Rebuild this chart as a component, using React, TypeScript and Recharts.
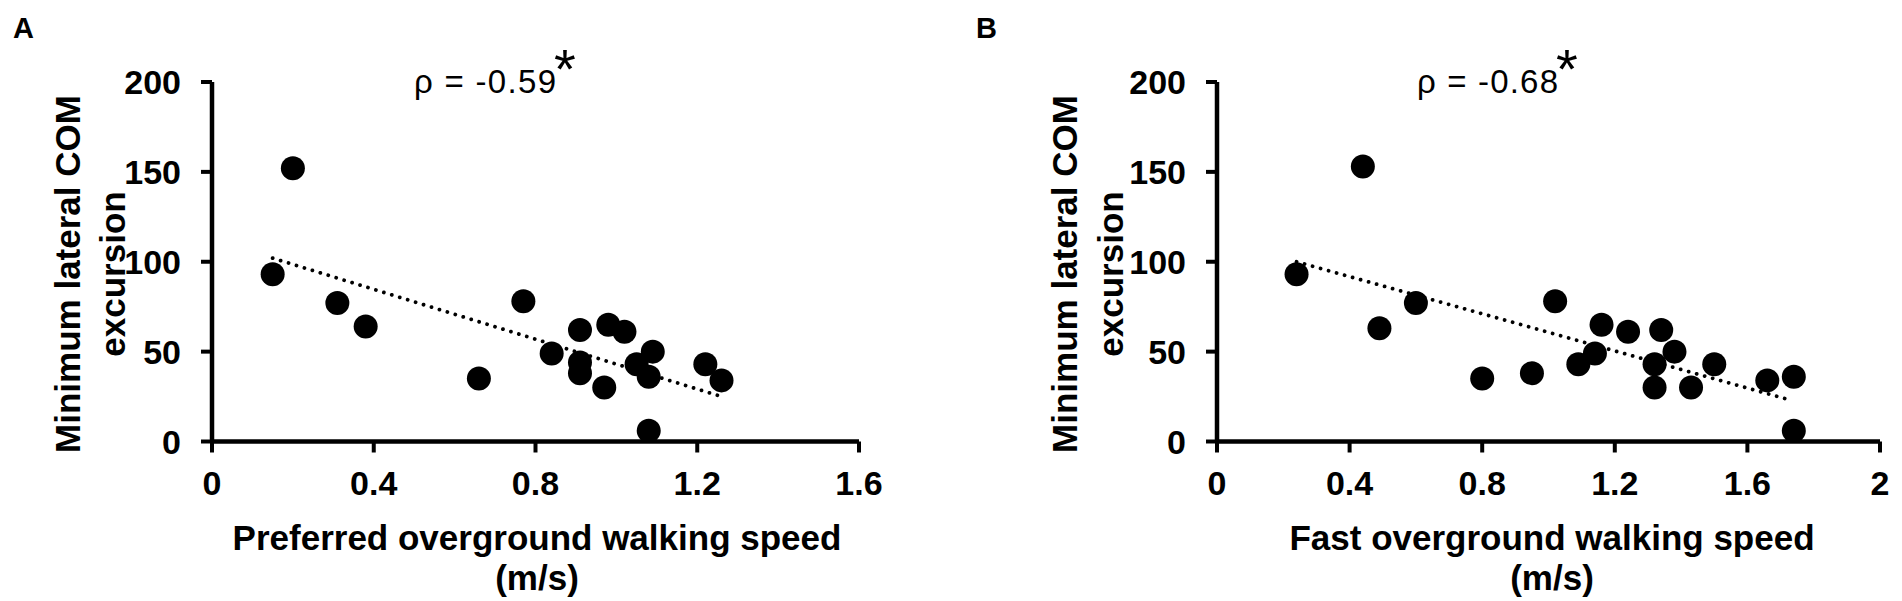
import { ScatterChart, Scatter, XAxis, YAxis, ReferenceLine } from "recharts";

// panel A: preferred speed
const preferredSpeed = [0.15, 0.2, 0.31, 0.38, 0.66, 0.77, 0.84, 0.91, 0.91, 0.91, 0.97, 0.98, 1.02, 1.05, 1.08, 1.09, 1.08, 1.22, 1.26];
const excursionA = [93, 152, 77, 64, 35, 78, 49, 62, 44, 38, 30, 65, 61, 43, 36, 50, 6, 43, 34];
const trendA = [
  { x: 0.15, y: 102 },
  { x: 1.26, y: 25 },
];

// panel B: fast speed
const fastSpeed = [0.24, 0.44, 0.49, 0.6, 0.8, 0.95, 1.02, 1.09, 1.14, 1.16, 1.24, 1.32, 1.32, 1.34, 1.38, 1.43, 1.5, 1.66, 1.74, 1.74];
const excursionB = [93, 153, 63, 77, 35, 38, 78, 43, 49, 65, 61, 43, 30, 62, 50, 30, 43, 34, 36, 6];
const trendB = [
  { x: 0.24, y: 100 },
  { x: 1.73, y: 23 },
];

const yTicks = [0, 50, 100, 150, 200];
const xTicksA = [0, 0.4, 0.8, 1.2, 1.6];
const xTicksB = [0, 0.4, 0.8, 1.2, 1.6, 2];

const pointsA = preferredSpeed.map((x, i) => ({ x, y: excursionA[i] }));
const pointsB = fastSpeed.map((x, i) => ({ x, y: excursionB[i] }));

const tickStyle = { fill: "#000", fontSize: 34, fontWeight: "bold" };
const axisLine = { stroke: "#000", strokeWidth: 4.5 };
const tickLine = { stroke: "#000", strokeWidth: 4 };

function Panel({ width, margin, points, trend, xTicks, xMax }) {
  return (
    <ScatterChart width={width} height={601} margin={margin}>
      <XAxis
        type="number"
        dataKey="x"
        domain={[0, xMax]}
        ticks={xTicks}
        interval={0}
        height={60}
        tick={tickStyle}
        axisLine={axisLine}
        tickLine={tickLine}
        tickSize={11}
        tickMargin={18}
      />
      <YAxis
        type="number"
        dataKey="y"
        domain={[0, 200]}
        ticks={yTicks}
        interval={0}
        width={100}
        tick={tickStyle}
        axisLine={axisLine}
        tickLine={tickLine}
        tickSize={11}
        tickMargin={20}
      />
      <ReferenceLine
        segment={trend}
        stroke="#000"
        strokeWidth={3.8}
        strokeDasharray="0.01 8.3"
        strokeLinecap="round"
        ifOverflow="visible"
      />
      <Scatter
        data={points}
        fill="#000"
        isAnimationActive={false}
        shape={(p) => <circle cx={p.cx} cy={p.cy} r={12} fill="#000" />}
      />
    </ScatterChart>
  );
}

export default function App() {
  const bold = { fontWeight: "bold", fontSize: 35, fill: "#000" };
  return (
    <div
      style={{
        position: "absolute",
        left: 0,
        top: 0,
        width: 1902,
        height: 601,
        background: "#fff",
        fontFamily: '"Liberation Sans", Arial, sans-serif',
      }}
    >
      <div style={{ position: "absolute", left: 0, top: 0 }}>
        <Panel
          width={900}
          margin={{ top: 82, right: 41, left: 112, bottom: 99.5 }}
          points={pointsA}
          trend={trendA}
          xTicks={xTicksA}
          xMax={1.6}
        />
      </div>
      <div style={{ position: "absolute", left: 950, top: 0 }}>
        <Panel
          width={952}
          margin={{ top: 82, right: 22, left: 167, bottom: 99.5 }}
          points={pointsB}
          trend={trendB}
          xTicks={xTicksB}
          xMax={2}
        />
      </div>
      <svg
        width={1902}
        height={601}
        style={{ position: "absolute", left: 0, top: 0, pointerEvents: "none" }}
      >
        <text x={13} y={38} fontSize={29} fontWeight="bold">A</text>
        <text x={976} y={38} fontSize={29} fontWeight="bold">B</text>

        <text x={414} y={93} fontSize={33} textLength={142} lengthAdjust="spacing">ρ = -0.59</text>
        <text x={554} y={88} fontSize={56}>*</text>
        <text x={1417} y={93} fontSize={33} textLength={141} lengthAdjust="spacing">ρ = -0.68</text>
        <text x={1556} y={88} fontSize={56}>*</text>

        <g transform="translate(67,274) rotate(-90)">
          <text textAnchor="middle" dominantBaseline="central" {...bold}>Minimum lateral COM</text>
        </g>
        <g transform="translate(112,274) rotate(-90)">
          <text textAnchor="middle" dominantBaseline="central" {...bold}>excursion</text>
        </g>
        <g transform="translate(1064,274) rotate(-90)">
          <text textAnchor="middle" dominantBaseline="central" {...bold}>Minimum lateral COM</text>
        </g>
        <g transform="translate(1110,274) rotate(-90)">
          <text textAnchor="middle" dominantBaseline="central" {...bold}>excursion</text>
        </g>

        <text x={537} y={537} textAnchor="middle" dominantBaseline="central" {...bold}>
          Preferred overground walking speed
        </text>
        <text x={537} y={577} textAnchor="middle" dominantBaseline="central" {...bold}>(m/s)</text>
        <text x={1552} y={537} textAnchor="middle" dominantBaseline="central" {...bold}>
          Fast overground walking speed
        </text>
        <text x={1552} y={577} textAnchor="middle" dominantBaseline="central" {...bold}>(m/s)</text>
      </svg>
    </div>
  );
}
